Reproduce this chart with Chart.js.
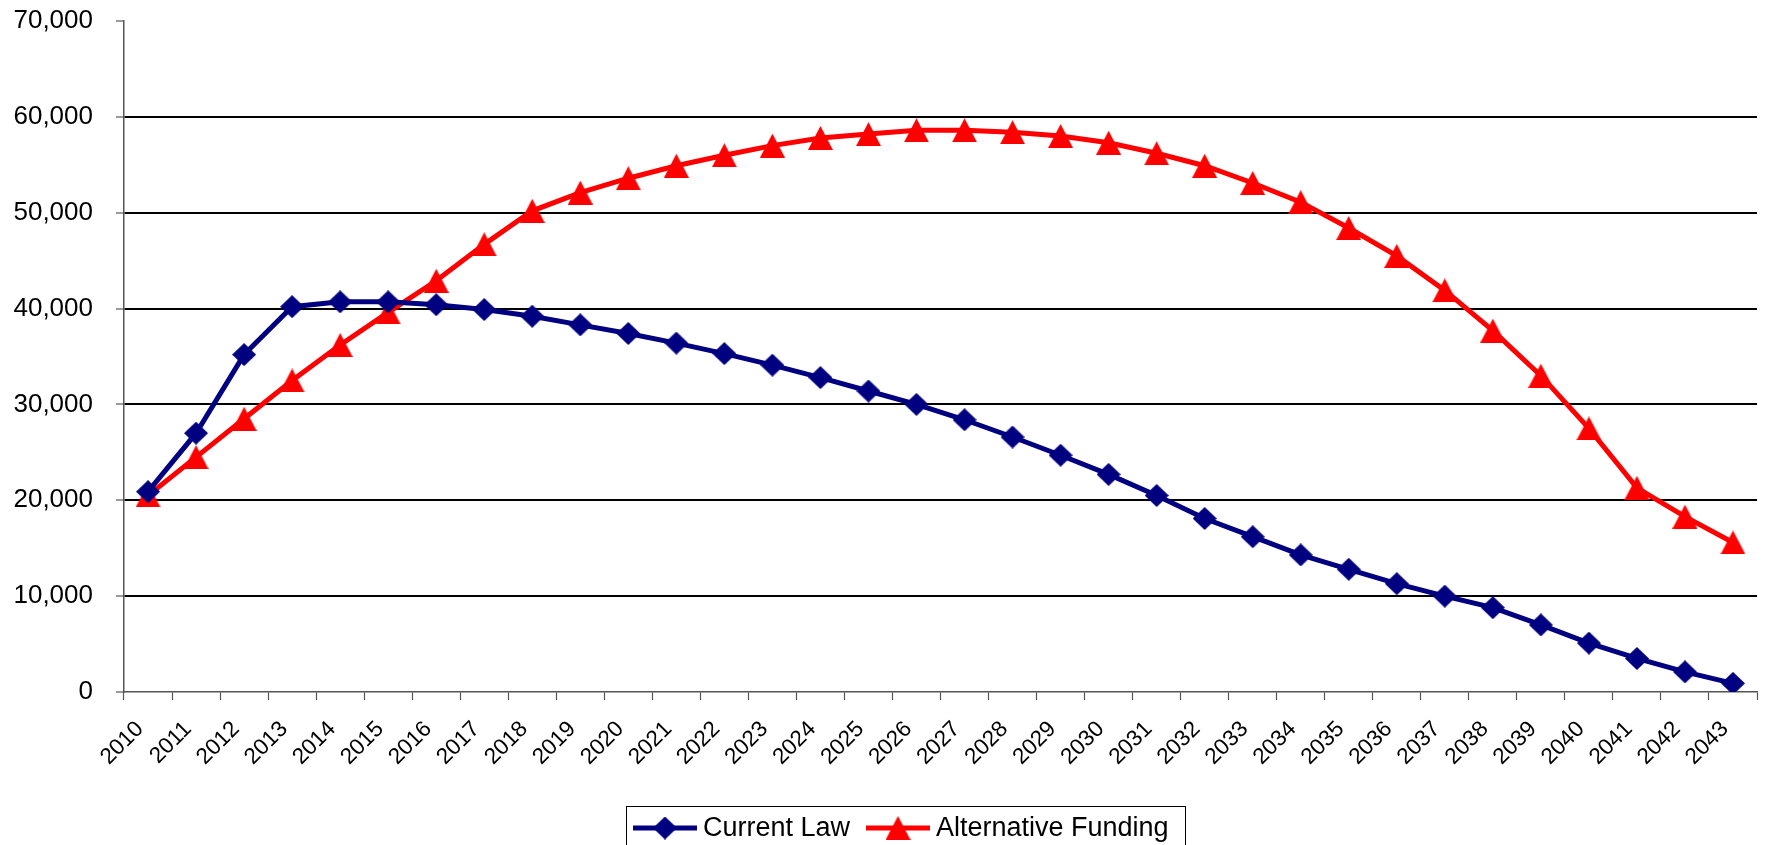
<!DOCTYPE html>
<html>
<head>
<meta charset="utf-8">
<script src="https://cdn.jsdelivr.net/npm/chart.js@4.4.1/dist/chart.umd.min.js"></script>
<style>
  html, body { margin: 0; padding: 0; background: #fff; }
  #wrap { width: 1773px; height: 845px; position: relative; }
</style>
</head>
<body>
<div id="wrap"><canvas id="chart"></canvas></div>
<script>
// Years on the category axis
const years = ['2010','2011','2012','2013','2014','2015','2016','2017','2018','2019',
  '2020','2021','2022','2023','2024','2025','2026','2027','2028','2029',
  '2030','2031','2032','2033','2034','2035','2036','2037','2038','2039',
  '2040','2041','2042','2043'];

// Series values
const currentLaw = [20900, 27000, 35200, 40200, 40700, 40700, 40400, 39900, 39200, 38300,
  37400, 36400, 35300, 34100, 32800, 31400, 30000, 28400, 26600, 24700,
  22700, 20500, 18100, 16200, 14300, 12800, 11300, 10000, 8800, 7000,
  5100, 3500, 2100, 900];

const alternativeFunding = [20500, 24500, 28500, 32500, 36200, 39600, 42900, 46700, 50200, 52100,
  53600, 54900, 56000, 57000, 57800, 58200, 58600, 58600, 58400, 58000,
  57300, 56200, 54900, 53100, 51100, 48400, 45500, 41900, 37700, 33000,
  27500, 21300, 18300, 15600];

// Value-axis tick labels
const yTickValues = [0, 10000, 20000, 30000, 40000, 50000, 60000, 70000];
const yTickLabels = ['0', '10,000', '20,000', '30,000', '40,000', '50,000', '60,000', '70,000'];

const FONT = '"Liberation Sans", Arial, sans-serif';
const NAVY = '#000080';
const RED = '#FF0000';

// Marker sprites, centred on their bounding boxes
function diamondSprite(color, w, h) {
  const c = document.createElement('canvas');
  c.width = w; c.height = h;
  const g = c.getContext('2d');
  g.fillStyle = color;
  g.beginPath();
  g.moveTo(w / 2, 0);
  g.lineTo(w, h / 2);
  g.lineTo(w / 2, h);
  g.lineTo(0, h / 2);
  g.closePath();
  g.fill();
  return c;
}
function triangleSprite(color, w, h) {
  const c = document.createElement('canvas');
  c.width = w; c.height = h;
  const g = c.getContext('2d');
  g.fillStyle = color;
  g.beginPath();
  g.moveTo(w / 2, 0);
  g.lineTo(w, h);
  g.lineTo(0, h);
  g.closePath();
  g.fill();
  return c;
}
const diamond = diamondSprite(NAVY, 24, 23);
const triangle = triangleSprite(RED, 25, 24);

// Boxed legend drawn under the axis, line sample with marker in the middle
const boxedLegend = {
  id: 'boxedLegend',
  afterDraw(chart) {
    const ctx = chart.ctx;
    const left = 626.5, top = 806.5, right = 1185.5;
    ctx.save();
    ctx.strokeStyle = '#000';
    ctx.lineWidth = 1;
    ctx.strokeRect(left, top, right - left, 80);
    ctx.font = '27px ' + FONT;
    ctx.textBaseline = 'middle';
    ctx.fillStyle = '#000';
    const cy = 828;
    const starts = [633, 866];
    chart.data.datasets.forEach((ds, i) => {
      const x0 = starts[i];
      const x1 = x0 + 64;
      ctx.strokeStyle = ds.borderColor;
      ctx.lineWidth = ds.borderWidth;
      ctx.beginPath();
      ctx.moveTo(x0, cy);
      ctx.lineTo(x1, cy);
      ctx.stroke();
      const img = ds.pointStyle;
      ctx.drawImage(img, (x0 + x1) / 2 - img.width / 2, cy - img.height / 2);
      ctx.fillText(ds.label, x1 + 6, cy + 1);
    });
    ctx.restore();
  }
};

const gridColor = (ctx) => {
  const v = ctx.tick && ctx.tick.value;
  return (v === 0 || v === 70000) ? 'rgba(0,0,0,0)' : '#000';
};

new Chart(document.getElementById('chart'), {
  type: 'line',
  data: {
    labels: years,
    datasets: [
      {
        label: 'Current Law',
        data: currentLaw,
        borderColor: NAVY,
        backgroundColor: NAVY,
        borderWidth: 5,
        pointStyle: diamond,
        pointRadius: 11,
        tension: 0,
        fill: false
      },
      {
        label: 'Alternative Funding',
        data: alternativeFunding,
        borderColor: RED,
        backgroundColor: RED,
        borderWidth: 5,
        pointStyle: triangle,
        pointRadius: 11,
        tension: 0,
        fill: false
      }
    ]
  },
  options: {
    responsive: true,
    maintainAspectRatio: false,
    animation: false,
    events: [],
    layout: { padding: { top: 21, right: 5, left: 0, bottom: 0 } },
    plugins: {
      legend: { display: false },
      tooltip: { enabled: false },
      title: { display: false }
    },
    scales: {
      x: {
        type: 'category',
        offset: true,
        grid: {
          offset: true,
          drawOnChartArea: false,
          drawTicks: true,
          tickLength: 8,
          tickColor: '#555',
          tickWidth: 1.2
        },
        border: { display: true, color: '#555', width: 1.5 },
        ticks: {
          autoSkip: false,
          maxRotation: 45,
          minRotation: 45,
          padding: 16,
          labelOffset: -8,
          color: '#000',
          font: { family: FONT, size: 22.5 }
        },
        afterFit(scale) { scale.height = 153; }
      },
      y: {
        min: 0,
        max: 70000,
        afterBuildTicks(scale) { scale.ticks = yTickValues.map(v => ({ value: v })); },
        grid: {
          color: gridColor,
          lineWidth: 2,
          drawTicks: true,
          tickLength: 8,
          tickColor: '#555',
          tickWidth: 1.2
        },
        border: { display: true, color: '#555', width: 1.5 },
        ticks: {
          padding: 23,
          color: '#000',
          font: { family: FONT, size: 26 },
          callback: (v, i) => yTickLabels[i]
        },
        afterFit(scale) {
          scale.width = 124;
          scale.paddingTop = 0;
          scale.paddingBottom = 0;
        }
      }
    }
  },
  plugins: [boxedLegend]
});
</script>
</body>
</html>
